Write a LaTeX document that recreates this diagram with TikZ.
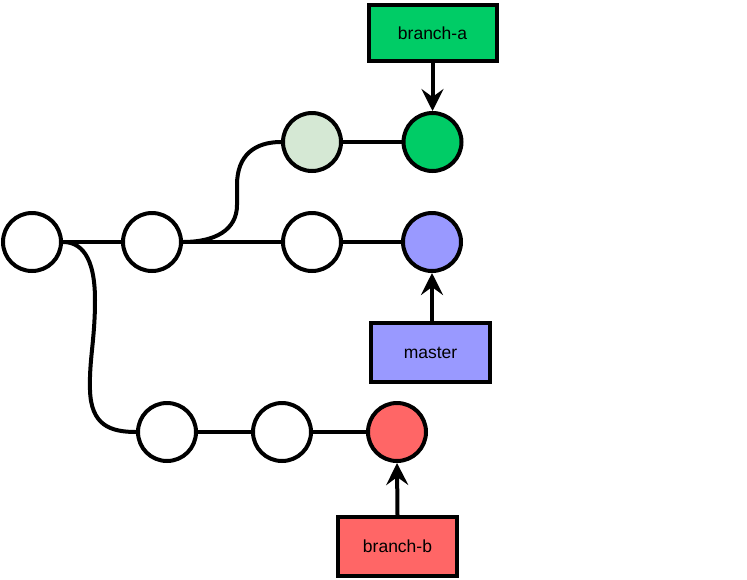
\documentclass[tikz,border=0pt]{standalone}
\usepackage{fontspec}
\setmainfont{Liberation Sans}
\usetikzlibrary{arrows.meta}
\definecolor{gitgreen}{HTML}{00CC66}
\definecolor{paleleaf}{HTML}{D5E8D4}
\definecolor{lavender}{HTML}{9999FF}
\definecolor{salmon}{HTML}{FF6666}
\begin{document}
\begin{tikzpicture}[x=1pt,y=-1pt,
  commit/.style={circle, draw=black, line width=4pt, fill=white, minimum size=58pt, inner sep=0pt},
  ref/.style={rectangle, draw=black, line width=4pt, minimum width=119pt, minimum height=59pt, inner sep=0pt,
    font=\fontsize{17.5}{21}\selectfont},
  edge/.style={line width=4pt},
  pointer/.style={line width=4pt, -{Stealth[length=22pt, width=22pt, inset=8pt]}}]
\useasboundingbox (0,0) rectangle (747,579);

% commits
\node[commit] (c0) at (32,242) {};
\node[commit] (c1) at (152,242) {};
\node[commit, fill=paleleaf] (c2) at (312,142) {};
\node[commit, fill=gitgreen] (c3) at (432.5,142) {};
\node[commit] (c4) at (312,242) {};
\node[commit, fill=lavender] (c5) at (432,242) {};
\node[commit] (c6) at (167,432) {};
\node[commit] (c7) at (282,432) {};
\node[commit, fill=salmon] (c8) at (397,432) {};

% branch labels
\node[ref, fill=gitgreen, minimum width=128pt, minimum height=56pt] (ba) at (432.5,33) {branch-a};
\node[ref, fill=lavender] (ms) at (430.5,352.5) {master};
\node[ref, fill=salmon] (bb) at (397.5,546.5) {branch-b};

% history lines
\draw[edge] (c0) -- (c1);
\draw[edge] (c1) -- (c4);
\draw[edge] (c4) -- (c5);
\draw[edge] (c2) -- (c3);
\draw[edge] (c6) -- (c7);
\draw[edge] (c7) -- (c8);
\draw[edge] (c1.east) .. controls (215,242) and (237,230) .. (237,205)
  -- (237,185) .. controls (237,155) and (255,142) .. (c2.west);
\draw[edge] (c0.east) .. controls (80,242) and (95,255) .. (95,300)
  .. controls (95,340) and (89,360) .. (90,390)
  .. controls (91,425) and (110,432) .. (c6.west);

% pointers
\draw[pointer] (ba.south) -- (c3.north);
\draw[pointer] (ms.north -| c5) -- (c5.south);
\draw[pointer] (bb.north) -- (c8.south);
\end{tikzpicture}
\end{document}
